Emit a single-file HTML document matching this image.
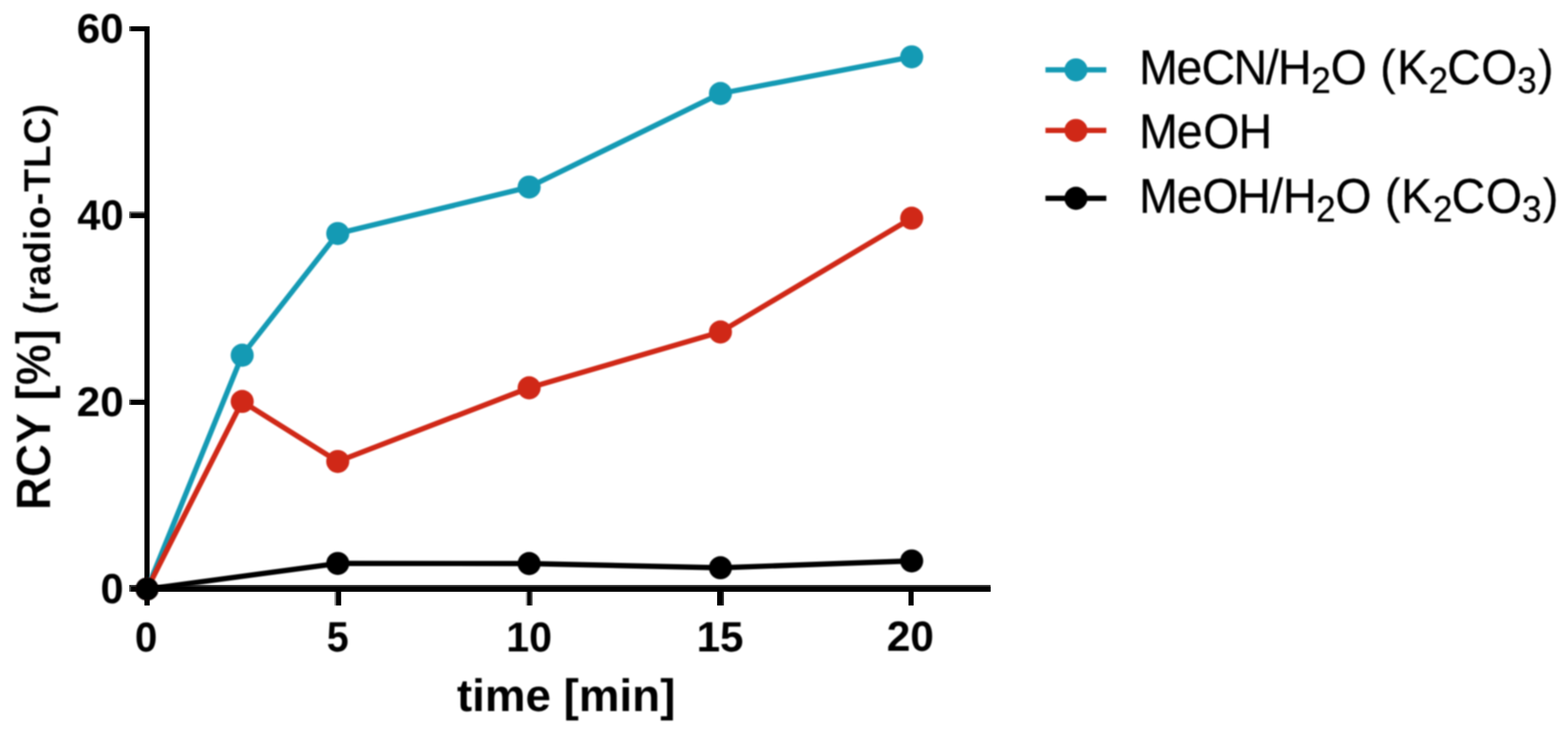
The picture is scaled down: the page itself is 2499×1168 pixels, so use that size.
<!DOCTYPE html>
<html lang="en">
<head>
<meta charset="utf-8">
<title>Radiochemical yield over time</title>
<style>
html,body{margin:0;padding:0;background:#fff;}
body{width:2499px;height:1168px;overflow:hidden;}
svg{display:block;}
text{white-space:pre;font-kerning:none;text-rendering:geometricPrecision;}
</style>
</head>
<body>
<svg width="2499" height="1168" viewBox="0 0 2499 1168">
<defs><filter id="soft" x="0" y="0" width="2499" height="1168" filterUnits="userSpaceOnUse" color-interpolation-filters="sRGB"><feGaussianBlur stdDeviation="0.9"/></filter></defs>
<rect width="2499" height="1168" fill="#fff"/>
<g class="axes" fill="#000">
<rect x="205.9" y="41.9" width="2.8" height="7.85" fill="#4a4a4a"/>
<rect x="208.5" y="41.9" width="24" height="7.85"/>
<rect x="206" y="336.9" width="26" height="3" fill="#707070"/>
<rect x="205.9" y="339.6" width="2.8" height="8" fill="#4a4a4a"/>
<rect x="208.5" y="339.6" width="24" height="8"/>
<rect x="206" y="634.5" width="26" height="2.8" fill="#d0d0d0"/>
<rect x="205.9" y="637" width="2.8" height="8.15" fill="#4a4a4a"/>
<rect x="208.5" y="637" width="24" height="8.15"/>
<rect x="206" y="932.1" width="26" height="3.2" fill="#333"/>
<rect x="205.9" y="935" width="2.8" height="7.85" fill="#4a4a4a"/>
<rect x="208.5" y="935" width="24" height="7.85"/>
<rect x="230.2" y="940" width="8.4" height="24.8" fill="#000"/>
<rect x="532.9" y="940" width="2.7" height="24.8" fill="#999"/>
<rect x="535.5" y="940" width="8.2" height="24.8" fill="#000"/>
<rect x="837.9" y="940" width="2.5" height="24.8" fill="#aaa"/>
<rect x="840.3" y="940" width="5.7" height="24.8" fill="#000"/>
<rect x="845.9" y="940" width="2.8" height="24.8" fill="#444"/>
<rect x="1142.9" y="940" width="8.1" height="24.8" fill="#000"/>
<rect x="1150.9" y="940" width="2.8" height="24.8" fill="#222"/>
<rect x="1447.9" y="940" width="8.2" height="24.8" fill="#000"/>
<rect x="230.2" y="932.1" width="1348.5" height="10.8" fill="#333"/>
<rect x="230.2" y="934.9" width="1348.5" height="8"/>
<rect x="230.2" y="41.9" width="8.25" height="901"/>
</g>
<g filter="url(#soft)">
<g class="series mecn">
<polyline points="234.4,938.6 386,566 538.3,372.1 843.3,298.1 1148.2,149 1453,90.6" fill="none" stroke="#149ab4" stroke-width="8.4" stroke-linejoin="round"/>
<circle cx="234.4" cy="938.6" r="18.4" fill="#149ab4"/>
<circle cx="386" cy="566" r="18.4" fill="#149ab4"/>
<circle cx="538.3" cy="372.1" r="18.4" fill="#149ab4"/>
<circle cx="843.3" cy="298.1" r="18.4" fill="#149ab4"/>
<circle cx="1148.2" cy="149" r="18.4" fill="#149ab4"/>
<circle cx="1453" cy="90.6" r="18.4" fill="#149ab4"/>
</g>
<g class="series meoh">
<polyline points="234.4,938.6 386,639.7 538.3,735.3 843.3,618 1148.2,529 1453,347.7" fill="none" stroke="#d02817" stroke-width="8.4" stroke-linejoin="round"/>
<circle cx="234.4" cy="938.6" r="18.4" fill="#d02817"/>
<circle cx="386" cy="639.7" r="18.4" fill="#d02817"/>
<circle cx="538.3" cy="735.3" r="18.4" fill="#d02817"/>
<circle cx="843.3" cy="618" r="18.4" fill="#d02817"/>
<circle cx="1148.2" cy="529" r="18.4" fill="#d02817"/>
<circle cx="1453" cy="347.7" r="18.4" fill="#d02817"/>
</g>
<g class="series meoh-h2o">
<polyline points="234.4,938.6 538.3,897.8 843.3,898 1148.2,904.7 1453,893.8" fill="none" stroke="#000" stroke-width="8.4" stroke-linejoin="round"/>
<circle cx="234.4" cy="938.6" r="18.4" fill="#000"/>
<circle cx="538.3" cy="897.8" r="18.4" fill="#000"/>
<circle cx="843.3" cy="898" r="18.4" fill="#000"/>
<circle cx="1148.2" cy="904.7" r="18.4" fill="#000"/>
<circle cx="1453" cy="893.8" r="18.4" fill="#000"/>
</g>
<g class="ticklabels">
<text transform="translate(122.13,67.76) scale(1.0054,0.9824)" font-family="'Liberation Sans', Arial, Helvetica, sans-serif" font-weight="bold" font-size="67" fill="#000">60</text>
<text transform="translate(123.3,365.54) scale(0.9892,1.0077)" font-family="'Liberation Sans', Arial, Helvetica, sans-serif" font-weight="bold" font-size="67" fill="#000">40</text>
<text transform="translate(122.27,663.15) scale(1.0035,0.9866)" font-family="'Liberation Sans', Arial, Helvetica, sans-serif" font-weight="bold" font-size="67" fill="#000">20</text>
<text transform="translate(160.29,960.65) scale(0.9854,0.9992)" font-family="'Liberation Sans', Arial, Helvetica, sans-serif" font-weight="bold" font-size="67" fill="#000">0</text>
<text transform="translate(215.06,1037.95) scale(0.9603,0.9866)" font-family="'Liberation Sans', Arial, Helvetica, sans-serif" font-weight="bold" font-size="67" fill="#000">0</text>
<text transform="translate(520.66,1037.54) scale(0.9389,1.0075)" font-family="'Liberation Sans', Arial, Helvetica, sans-serif" font-weight="bold" font-size="67" fill="#000">5</text>
<text transform="translate(806.76,1037.55) scale(0.9814,0.9929)" font-family="'Liberation Sans', Arial, Helvetica, sans-serif" font-weight="bold" font-size="67" fill="#000">10</text>
<text transform="translate(1110.16,1037.54) scale(1.0038,1.0075)" font-family="'Liberation Sans', Arial, Helvetica, sans-serif" font-weight="bold" font-size="67" fill="#000">15</text>
<text transform="translate(1413.26,1037.34) scale(1.0093,1.0056)" font-family="'Liberation Sans', Arial, Helvetica, sans-serif" font-weight="bold" font-size="67" fill="#000">20</text>
</g>
<g class="titles">
<text transform="translate(728.21,1132.69) scale(0.9848,0.9771)" font-family="'Liberation Sans', Arial, Helvetica, sans-serif" font-weight="bold" font-size="74" fill="#000">time [min]</text>
<text transform="translate(80.3,813.1) rotate(-90) scale(0.9895,1.0450)" font-family="'Liberation Sans', Arial, Helvetica, sans-serif" font-weight="bold" font-size="74" fill="#000" stroke="#fff" stroke-width="0.5">RCY [%]</text>
<text transform="translate(80.3,501.19) rotate(-90)" font-family="'Liberation Sans', Arial, Helvetica, sans-serif" font-weight="bold" font-size="60" fill="#000" stroke="#fff" stroke-width="0.3" letter-spacing="1.25">(radio-TLC)</text>
</g>
<g class="legend">
<rect x="1666.2" y="107.1" width="97" height="8.4" fill="#149ab4"/>
<circle cx="1714.8" cy="111.3" r="18.4" fill="#149ab4"/>
<text transform="translate(0,133.6) scale(1,1.05)" font-family="'Liberation Sans', Arial, Helvetica, sans-serif" font-size="74" fill="#000" stroke="#000" stroke-width="0.4"><tspan x="1815.43" y="0">M</tspan><tspan x="1875.09" y="0">e</tspan><tspan x="1915.01" y="0">C</tspan><tspan x="1965.91" y="0">N</tspan><tspan x="2017.42" y="0">/</tspan><tspan x="2036.76" y="0">H</tspan><tspan x="2089.68" y="13.52" font-size="56">2</tspan><tspan x="2120.84" y="0">O </tspan><tspan x="2199.75" y="0">(</tspan><tspan x="2226.8" y="0">K</tspan><tspan x="2276.78" y="13.52" font-size="56">2</tspan><tspan x="2306.41" y="0">C</tspan><tspan x="2360.64" y="0">O</tspan><tspan x="2417.94" y="13.52" font-size="56">3</tspan><tspan x="2451.16" y="0">)</tspan></text>
<rect x="1666.2" y="203.6" width="97" height="8.4" fill="#d02817"/>
<circle cx="1714.8" cy="207.8" r="18.4" fill="#d02817"/>
<text transform="translate(0,235.5) scale(1,1.05)" font-family="'Liberation Sans', Arial, Helvetica, sans-serif" font-size="74" fill="#000" stroke="#000" stroke-width="0.4"><tspan x="1815.38" y="0">M</tspan><tspan x="1875.39" y="0">e</tspan><tspan x="1917.64" y="0">O</tspan><tspan x="1974.01" y="0">H</tspan></text>
<rect x="1666.2" y="311.8" width="97" height="8.4" fill="#000"/>
<circle cx="1714.8" cy="316" r="18.4" fill="#000"/>
<text transform="translate(0,338.7) scale(1,1.05)" font-family="'Liberation Sans', Arial, Helvetica, sans-serif" font-size="74" fill="#000" stroke="#000" stroke-width="0.4"><tspan x="1815.43" y="0">M</tspan><tspan x="1875.44" y="0">e</tspan><tspan x="1916.14" y="0">O</tspan><tspan x="1971.66" y="0">H</tspan><tspan x="2024.37" y="0">/</tspan><tspan x="2044.86" y="0">H</tspan><tspan x="2097.38" y="13.52" font-size="56">2</tspan><tspan x="2128.34" y="0">O </tspan><tspan x="2207.2" y="0">(</tspan><tspan x="2232.95" y="0">K</tspan><tspan x="2283.78" y="13.52" font-size="56">2</tspan><tspan x="2313.46" y="0">C</tspan><tspan x="2368.14" y="0">O</tspan><tspan x="2425.79" y="13.52" font-size="56">3</tspan><tspan x="2459.11" y="0">)</tspan></text>
</g>
</g>
</svg>
</body>
</html>
